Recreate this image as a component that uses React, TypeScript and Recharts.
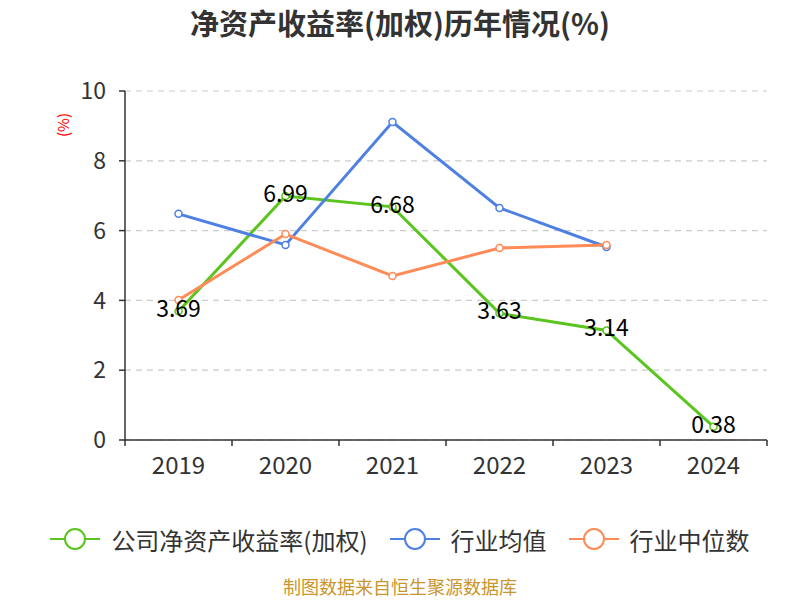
import React from "react"
import { LineChart, Line, XAxis, YAxis, CartesianGrid, LabelList } from "recharts"

const years = ["2019", "2020", "2021", "2022", "2023", "2024"]
const companyRoe = [3.69, 6.99, 6.68, 3.63, 3.14, 0.38]
const industryAvg = [6.48, 5.59, 9.11, 6.65, 5.53, null]
const industryMedian = [4.01, 5.9, 4.7, 5.5, 5.59, null]
const yTicks = [0, 2, 4, 6, 8, 10]

const FONT = '"Noto Sans CJK SC", "Noto Sans", sans-serif'
const W = 800
const H = 600
const LEFT = 125
const RIGHT = 33
const TOP = 91
const BOTTOM = 130
const BAND = (W - LEFT - RIGHT) / years.length

const GREEN = "#5cc41e"
const BLUE = "#4e80e4"
const ORANGE = "#ff8c57"

const data = years.map((year, i) => ({
  year,
  company: companyRoe[i],
  avg: industryAvg[i],
  median: industryMedian[i],
}))

// boundary ticks like the original chart (ticks between categories)
function XTick(props: any) {
  const { x, y, payload, index } = props
  const half = BAND / 2
  return (
    <g>
      <line x1={x - half} y1={y} x2={x - half} y2={y + 6} stroke="#333" strokeWidth={1.5} />
      {index === years.length - 1 && (
        <line x1={x + half} y1={y} x2={x + half} y2={y + 6} stroke="#333" strokeWidth={1.5} />
      )}
      <text x={x} y={y + 34} textAnchor="middle" fill="#333" fontSize={24} fontFamily={FONT}>
        {payload.value}
      </text>
    </g>
  )
}

function ValueLabel(props: any) {
  const { x, y, value } = props
  return (
    <text x={x} y={y} dy={6} textAnchor="middle" fill="#000" fontSize={23} fontFamily={FONT}>
      {value}
    </text>
  )
}

function LegendIcon({ color }: { color: string }) {
  return (
    <svg width={50} height={24} style={{ marginRight: 11 }}>
      <line x1={0} y1={12} x2={50} y2={12} stroke={color} strokeWidth={2} />
      <circle cx={25} cy={12} r={10} fill="#fff" stroke={color} strokeWidth={2} />
    </svg>
  )
}

const legendItems = [
  { name: "公司净资产收益率(加权)", color: GREEN },
  { name: "行业均值", color: BLUE },
  { name: "行业中位数", color: ORANGE },
]

export default function App() {
  const dot = (color: string) => ({ r: 3.5, fill: "#fff", stroke: color, strokeWidth: 1.5 })
  return (
    <div style={{ position: "absolute", left: 0, top: 0, width: W, height: H, background: "#fff", fontFamily: FONT }}>
      <div
        style={{
          position: "absolute",
          top: 5,
          left: 0,
          width: W,
          textAlign: "center",
          fontSize: 29,
          lineHeight: "34px",
          fontWeight: "bold",
          color: "#333",
        }}
      >
        净资产收益率(加权)历年情况(%)
      </div>
      <LineChart width={W} height={H} data={data} margin={{ top: TOP, right: RIGHT, bottom: BOTTOM, left: 0 }}>
        <CartesianGrid vertical={false} stroke="#ccc" strokeDasharray="6 5" strokeWidth={1.2} />
        <XAxis
          dataKey="year"
          padding={{ left: BAND / 2, right: BAND / 2 }}
          axisLine={{ stroke: "#333", strokeWidth: 1.5 }}
          tickLine={false}
          tickSize={0}
          tickMargin={0}
          tick={<XTick />}
          interval={0}
        />
        <YAxis
          width={LEFT}
          domain={[0, 10]}
          ticks={yTicks}
          interval={0}
          axisLine={{ stroke: "#333", strokeWidth: 1.5 }}
          tickLine={{ stroke: "#333", strokeWidth: 1.5 }}
          tickSize={6}
          tickMargin={13}
          tick={{ fill: "#333", fontSize: 23, fontFamily: FONT }}
        />
        <Line
          dataKey="company"
          stroke={GREEN}
          strokeWidth={3}
          dot={dot(GREEN)}
          activeDot={false}
          isAnimationActive={false}
        >
          <LabelList dataKey="company" content={<ValueLabel />} />
        </Line>
        <Line dataKey="avg" stroke={BLUE} strokeWidth={3} dot={dot(BLUE)} activeDot={false} isAnimationActive={false} />
        <Line
          dataKey="median"
          stroke={ORANGE}
          strokeWidth={3}
          dot={dot(ORANGE)}
          activeDot={false}
          isAnimationActive={false}
        />
      </LineChart>
      <div
        style={{
          position: "absolute",
          left: 63,
          top: 125,
          transform: "translate(-50%, -50%) rotate(-90deg)",
          color: "#f00",
          fontSize: 15,
          lineHeight: "18px",
        }}
      >
        (%)
      </div>
      <div
        style={{
          position: "absolute",
          top: 524,
          left: 0,
          width: W,
          height: 30,
          display: "flex",
          justifyContent: "center",
          alignItems: "center",
          fontSize: 24,
          color: "#333",
        }}
      >
        {legendItems.map((item, i) => (
          <div key={item.name} style={{ display: "flex", alignItems: "center", marginLeft: i === 0 ? 0 : 22 }}>
            <LegendIcon color={item.color} />
            <span>{item.name}</span>
          </div>
        ))}
      </div>
      <div
        style={{
          position: "absolute",
          top: 573,
          left: 0,
          width: W,
          textAlign: "center",
          fontSize: 18,
          lineHeight: "26px",
          color: "#c9952d",
        }}
      >
        制图数据来自恒生聚源数据库
      </div>
    </div>
  )
}
